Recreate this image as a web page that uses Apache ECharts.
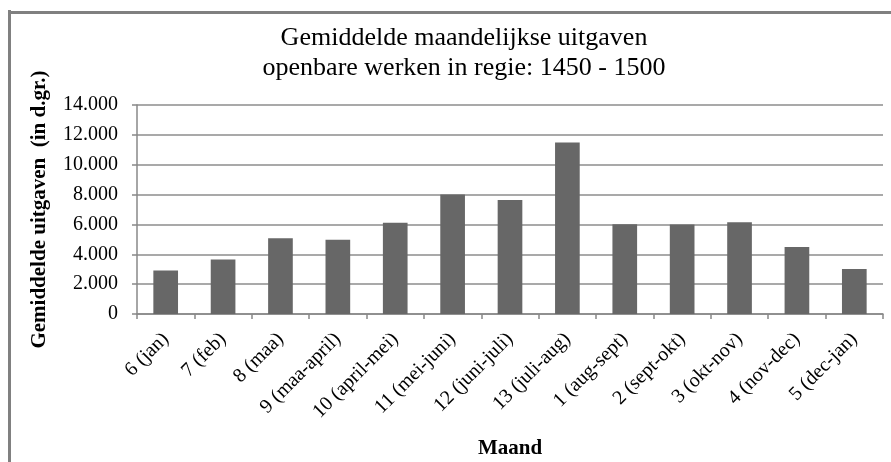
<!DOCTYPE html>
<html>
<head>
<meta charset="utf-8">
<script src="https://cdn.jsdelivr.net/npm/echarts@6/dist/echarts.min.js"></script>
<style>
html,body{margin:0;padding:0;background:#fff;}
#chart{width:891px;height:462px;}
</style>
</head>
<body>
<div id="chart"></div>
<script>
var categories = ['6 (jan)', '7 (feb)', '8 (maa)', '9 (maa-april)', '10 (april-mei)', '11 (mei-juni)', '12 (juni-juli)', '13 (juli-aug)', '1 (aug-sept)', '2 (sept-okt)', '3 (okt-nov)', '4 (nov-dec)', '5 (dec-jan)'];
var values = [2910, 3650, 5070, 4980, 6120, 8000, 7640, 11480, 6010, 6000, 6140, 4490, 3010];
var titleText = 'Gemiddelde maandelijkse uitgaven\nopenbare werken in regie: 1450 - 1500';
var yAxisName = 'Gemiddelde uitgaven  (in d.gr.)';
var xAxisName = 'Maand';

var serif = '"Liberation Serif", "Times New Roman", serif';
var chart = echarts.init(document.getElementById('chart'));
chart.setOption({
  animation: false,
  backgroundColor: '#fff',
  title: {
    text: titleText,
    left: 459,
    textAlign: 'center',
    top: 18,
    textStyle: {fontFamily: serif, fontWeight: 'normal', fontSize: 26, lineHeight: 30, color: '#000'}
  },
  grid: {left: 137, right: 8, top: 105, bottom: 148, containLabel: false},
  xAxis: {
    type: 'category',
    data: categories,
    name: xAxisName,
    nameLocation: 'middle',
    nameGap: 124,
    nameTextStyle: {fontFamily: serif, fontWeight: 'bold', fontSize: 21, color: '#000'},
    axisLine: {lineStyle: {color: '#888', width: 1.5}},
    axisTick: {show: true, length: 5, lineStyle: {color: '#888', width: 1.5}},
    axisLabel: {rotate: 45, interval: 0, margin: 22, fontFamily: serif, fontSize: 20, color: '#000'}
  },
  yAxis: {
    type: 'value',
    min: 0, max: 14000, interval: 2000,
    name: yAxisName,
    nameLocation: 'middle',
    nameGap: 87,
    nameTextStyle: {fontFamily: serif, fontWeight: 'bold', fontSize: 21, color: '#000'},
    axisLine: {show: true, lineStyle: {color: '#888', width: 1.5}},
    axisTick: {show: true, length: 5, lineStyle: {color: '#888', width: 1.5}},
    splitLine: {lineStyle: {color: '#8c8c8c', width: 1.5}},
    axisLabel: {
      margin: 19, fontFamily: serif, fontSize: 20, color: '#000',
      formatter: function (v) { return String(v).replace(/\B(?=(\d{3})+(?!\d))/g, '.'); }
    }
  },
  series: [{
    type: 'bar',
    data: values,
    barWidth: '43%',
    itemStyle: {color: '#676767'}
  }],
  graphic: [
    {type: 'rect', shape: {x: 8, y: 10, width: 3, height: 452}, style: {fill: '#808080'}},
    {type: 'rect', shape: {x: 8, y: 11, width: 883, height: 3}, style: {fill: '#808080'}}
  ]
});
</script>
</body>
</html>
